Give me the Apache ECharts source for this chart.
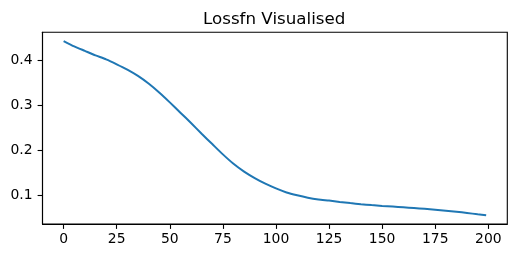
<!DOCTYPE html>
<html>
<head>
<meta charset="utf-8">
<script src="https://cdn.jsdelivr.net/npm/echarts@6/dist/echarts.min.js"></script>
<style>html,body{margin:0;padding:0;background:#fff}#c{width:516px;height:258px}</style>
</head>
<body>
<div id="c"></div>
<script>
var titleText = "Lossfn Visualised";
var epochs = [0,5,10,15,20,25,30,35,40,45,50,55,60,65,70,75,80,85,90,95,100,105,110,115,120,125,130,135,140,145,150,155,160,165,170,175,180,185,190,195,199];
var loss = [0.444,0.432,0.422,0.412,0.403,0.392,0.380,0.366,0.349,0.329,0.307,0.284,0.261,0.237,0.214,0.191,0.170,0.1525,0.138,0.1255,0.115,0.106,0.0996,0.0943,0.0904,0.0878,0.0848,0.0822,0.0798,0.0777,0.0760,0.0745,0.0729,0.0712,0.0694,0.0674,0.0653,0.0630,0.0602,0.0572,0.0550];
var xTicks = [0,25,50,75,100,125,150,175,200];
var yTicks = [0.1,0.2,0.3,0.4];

var pts = epochs.map(function(e,i){return [e, loss[i]];});
var xMinD = Math.min.apply(null, epochs), xMaxD = Math.max.apply(null, epochs);
var yMinD = Math.min.apply(null, loss), yMaxD = Math.max.apply(null, loss);
var xm = (xMaxD - xMinD) * 0.05, ym = (yMaxD - yMinD) * 0.05;

var font = "DejaVu Sans";
var chart = echarts.init(document.getElementById('c'), null, {renderer:'canvas'});
chart.setOption({
  animation: false,
  backgroundColor: '#fff',
  title: {
    text: titleText, left: 203, top: 11, padding: 0,
    textStyle: {fontFamily: font, fontSize: 16.7, fontWeight: 'normal', color: '#000'}
  },
  grid: {left: 42.5, right: 8.7, top: 32.3, bottom: 34, show: true, borderColor: '#000', borderWidth: 1.1, backgroundColor: 'transparent'},
  xAxis: {
    type: 'value', min: xMinD - xm, max: xMaxD + xm,
    splitLine: {show: false},
    axisLine: {show: true, onZero: false, lineStyle: {color: '#000', width: 1.1}},
    axisTick: {show: true, length: 4.9, inside: false, customValues: xTicks, lineStyle: {color: '#000', width: 1.1}},
    axisLabel: {customValues: xTicks, margin: 8, fontFamily: font, fontSize: 13.9, color: '#000', formatter: function(v){return String(v);}}
  },
  yAxis: {
    type: 'value', min: yMinD - ym, max: yMaxD + ym,
    splitLine: {show: false},
    axisLine: {show: true, onZero: false, lineStyle: {color: '#000', width: 1.1}},
    axisTick: {show: true, length: 4.9, inside: false, customValues: yTicks, lineStyle: {color: '#000', width: 1.1}},
    axisLabel: {customValues: yTicks, margin: 10, fontFamily: font, fontSize: 13.9, color: '#000', formatter: function(v){return v.toFixed(1);}}
  },
  series: [{
    type: 'line', data: pts, showSymbol: false, smooth: 0.2,
    lineStyle: {color: '#1f77b4', width: 2}
  }]
});
</script>
</body>
</html>
